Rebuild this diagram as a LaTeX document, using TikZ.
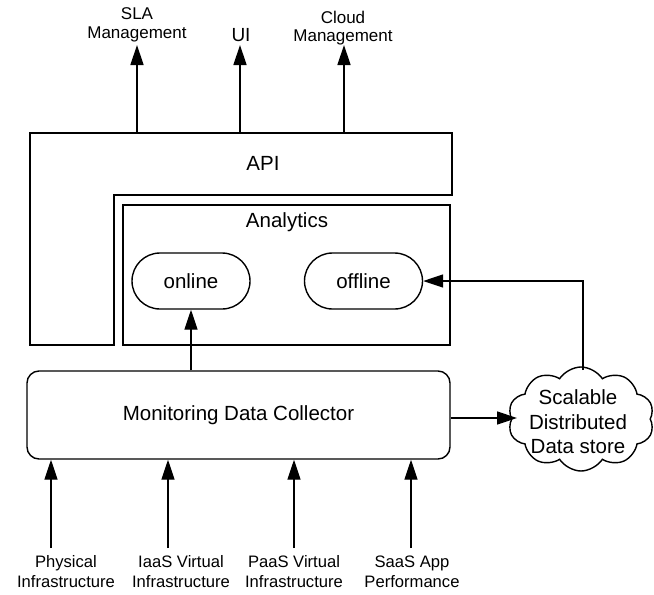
\documentclass[tikz,border=0pt]{standalone}
\usepackage{fontspec}
\setmainfont{Liberation Sans}
\usetikzlibrary{arrows.meta,shapes.symbols}

\tikzset{
  line/.style={line width=1.4pt, line join=miter},
  arr/.style={line, -{Triangle[length=20pt,width=13pt]}},
  bigtext/.style={font=\fontsize{20.5}{24.5}\selectfont, inner sep=0pt},
  smalltext/.style={font=\fontsize{16.6}{20}\selectfont, align=center, inner sep=0pt},
  toptext/.style={font=\fontsize{17}{18.5}\selectfont, align=center, inner sep=0pt},
  pill/.style={line, draw, rectangle, rounded corners=28pt, minimum width=118pt,
    minimum height=56pt, bigtext},
  storecloud/.style={line, draw, cloud, cloud puffs=10, cloud puff arc=115, aspect=1.45,
    minimum width=146pt, minimum height=104pt, inner sep=0pt},
}

\begin{document}
\begin{tikzpicture}[x=1pt, y=-1pt]
\useasboundingbox (0,0) rectangle (654,595);

% API layer: L-shaped outline wrapping the analytics block
\draw[line] (30,133) -- (452,133) -- (452,195) -- (114,195) -- (114,345)
  -- (30,345) -- cycle;
\node[bigtext] (api) at (263,163) {API};

% Analytics block with online / offline engines
\draw[line] (123,205) rectangle (450,345);
\node[bigtext] (analytics) at (287,222) {Analytics};
\node[pill] (online) at (191,281) {online};
\node[pill] (offline) at (363.5,281) {offline};

% Collector
\node[line, draw, rectangle, rounded corners=12pt, minimum width=423pt,
  minimum height=88pt, bigtext] (mdc) at (238.5,415) {Monitoring Data Collector};

% Data store
\node[storecloud] (store) at (581,419) {};
\node[bigtext, align=center] (storetext) at (578,422)
  {Scalable\\Distributed\\Data store};

% Consumers of the API (base = baseline of the last line)
\node[toptext, anchor=base] (sla) at (137,38) {SLA\\Management};
\node[font=\fontsize{19}{22}\selectfont, inner sep=0pt, anchor=base] (ui) at (241,41.5) {UI};
\node[toptext, anchor=base] (cloudmgmt) at (343,41.5) {Cloud\\Management};
\coordinate (slatip) at (137,45);
\coordinate (uitip) at (240,45);
\coordinate (cloudtip) at (344,45);
\draw[arr] (137,133) -- (slatip);
\draw[arr] (240,133) -- (uitip);
\draw[arr] (344,133) -- (cloudtip);

% Monitoring sources
\node[smalltext, anchor=base] (phys) at (66,587) {Physical\\Infrastructure};
\node[smalltext, anchor=base] (iaas) at (181,587) {IaaS Virtual\\Infrastructure};
\node[smalltext, anchor=base] (paas) at (294,587) {PaaS Virtual\\Infrastructure};
\node[smalltext, anchor=base] (saas) at (412,587) {SaaS App\\Performance};
\coordinate (physsrc) at (51,548);
\coordinate (iaassrc) at (168,548);
\coordinate (paassrc) at (294,548);
\coordinate (saassrc) at (411,548);
\draw[arr] (physsrc) -- (physsrc |- mdc.south);
\draw[arr] (iaassrc) -- (iaassrc |- mdc.south);
\draw[arr] (paassrc) -- (paassrc |- mdc.south);
\draw[arr] (saassrc) -- (saassrc |- mdc.south);

% Data flows
\coordinate (mdcout) at ([yshift=-3pt]mdc.east);
\draw[arr, shorten >=-6pt] (mdcout) -- (mdcout -| store.west);
\draw[arr] (mdc.north -| online) -- (online.south);
\draw[arr] (583,370) |- (offline.east);
\end{tikzpicture}
\end{document}
